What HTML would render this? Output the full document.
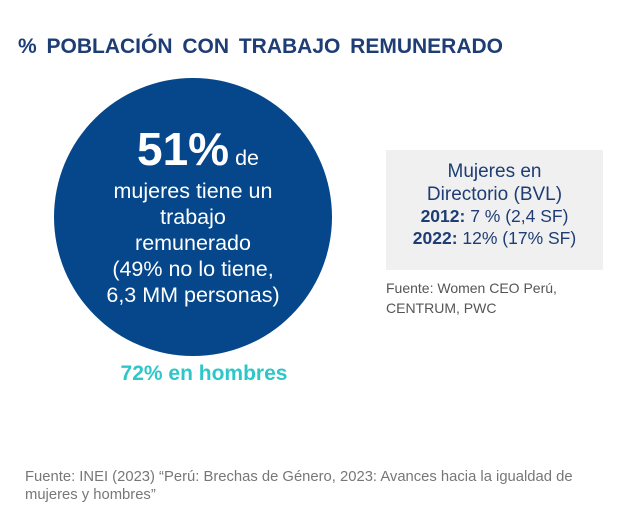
<!DOCTYPE html>
<html><head><meta charset="utf-8"><style>
body{margin:0;width:620px;height:514px;background:#fff;position:relative;overflow:hidden;font-family:"Liberation Sans",sans-serif}
.a{position:absolute}
</style></head><body>
<div class="a" style="left:18px;top:35px;font-size:21px;font-weight:bold;color:#1d3d74;word-spacing:4px">% POBLACIÓN CON TRABAJO REMUNERADO</div>
<div class="a" style="left:54px;top:78px;width:278px;height:278px;border-radius:50%;background:#05478a"></div>
<div class="a" style="left:44px;top:122px;width:298px;text-align:center;color:#fff;font-size:21.5px;line-height:26px">
<div style="margin-left:10px;margin-bottom:2px"><span style="font-size:46px;font-weight:bold;line-height:54px">51%</span> de</div>
<div>mujeres tiene un</div><div>trabajo</div><div>remunerado</div><div>(49% no lo tiene,</div><div>6,3 MM personas)</div></div>
<div class="a" style="left:54px;top:362px;width:300px;text-align:center;color:#2ec7c9;font-size:21px;font-weight:bold">72% en hombres</div>
<div class="a" style="left:386px;top:150px;width:217px;height:120px;background:#f0f0f0;color:#1d3d74;text-align:center;font-size:19px;line-height:23px;padding-top:10px;box-sizing:border-box">
<div>Mujeres en</div><div>Directorio (BVL)</div><div style="font-size:17.5px;line-height:21px"><b>2012:</b> 7 % (2,4 SF)</div><div style="font-size:17.5px;line-height:23px"><b>2022:</b> 12% (17% SF)</div></div>
<div class="a" style="left:386px;top:278px;color:#555;font-size:14px;line-height:20px">Fuente: Women CEO Perú,<br>CENTRUM, PWC</div>
<div class="a" style="left:25px;top:468px;color:#777;font-size:14.8px;line-height:18px">Fuente: INEI (2023) “Perú: Brechas de Género, 2023: Avances hacia la igualdad de<br>mujeres y hombres”</div>
</body></html>
